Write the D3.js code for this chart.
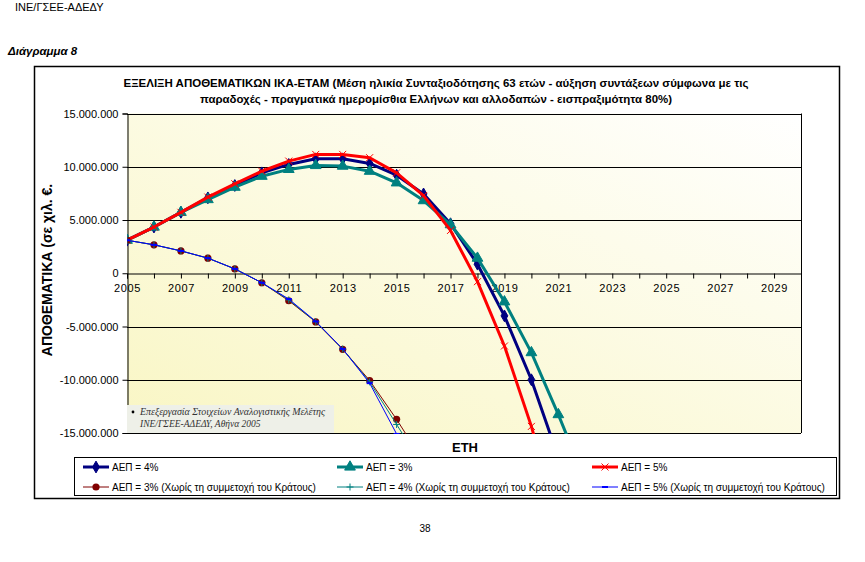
<!DOCTYPE html>
<html><head><meta charset="utf-8">
<script src="https://cdn.jsdelivr.net/npm/d3@7"></script>
<style>body{margin:0;background:#fff;}</style>
</head><body><svg id="c" width="865" height="562" font-family="Liberation Sans, Arial, sans-serif"></svg>
<script>
// ---- data ----
const years = [2005,2006,2007,2008,2009,2010,2011,2012,2013,2014,2015,2016,2017,2018,2019,2020,2021,2022];
const gdp4 = [3100000,4340000,5720000,7080000,8240000,9430000,10220000,10750000,10750000,10310000,9210000,7450000,4650000,850000,-4000000,-10000000,-17300000,null];
const gdp3 = [3100000,4340000,5720000,6920000,8080000,9110000,9750000,10120000,10060000,9580000,8490000,6820000,4560000,1420000,-2680000,-7450000,-13270000,-19500000];
const gdp5 = [3100000,4340000,5720000,7150000,8400000,9580000,10530000,11160000,11160000,10850000,9430000,7290000,4020000,-790000,-6830000,-14380000,-23500000,null];
const noState3 = [3100000,2670000,2100000,1420000,410000,-890000,-2580000,-4570000,-7140000,-10070000,-13720000,-17700000,null,null,null,null,null,null];
const noState4 = [3100000,2670000,2100000,1420000,410000,-890000,-2500000,-4550000,-7120000,-10200000,-14200000,-18200000,null,null,null,null,null,null];
const noState5 = [3100000,2670000,2100000,1420000,410000,-890000,-2420000,-4520000,-7100000,-10320000,-15090000,-19800000,null,null,null,null,null,null];
const yTicks = [-15000000,-10000000,-5000000,0,5000000,10000000,15000000];
const xTickYears = [2005,2006,2007,2008,2009,2010,2011,2012,2013,2014,2015,2016,2017,2018,2019,2020,2021,2022,2023,2024,2025,2026,2027,2028,2029,2030];
const xLabelYears = [2005,2007,2009,2011,2013,2015,2017,2019,2021,2023,2025,2027,2029];
const seriesNames = ["ΑΕΠ = 4%","ΑΕΠ = 3%","ΑΕΠ = 5%","ΑΕΠ = 3% (Χωρίς τη συμμετοχή του Κράτους)","ΑΕΠ = 4% (Χωρίς τη συμμετοχή του Κράτους)","ΑΕΠ = 5% (Χωρίς τη συμμετοχή του Κράτους)"];
const titleLines = ["ΕΞΕΛΙΞΗ ΑΠΟΘΕΜΑΤΙΚΩΝ ΙΚΑ-ΕΤΑΜ (Μέση ηλικία Συνταξιοδότησης 63 ετών - αύξηση συντάξεων σύμφωνα με τις",
  "παραδοχές - πραγματικά ημερομίσθια Ελλήνων και αλλοδαπών - εισπραξιμότητα 80%)"];

const svg = d3.select("#c");
const L = 127, R = 801, T = 113.5, B = 433;
const x = d3.scaleLinear().domain([2005, 2030]).range([L, R]);
const y = d3.scaleLinear().domain([-15000000, 15000000]).range([B, T]);
const loc = d3.formatLocale({decimal:",", thousands:".", grouping:[3], currency:["","€"], minus:"-"});
const fmt = loc.format(",d");

// header texts
svg.append("text").attr("x",15).attr("y",11).attr("font-size",11).text("ΙΝΕ/ΓΣΕΕ-ΑΔΕΔΥ");
svg.append("text").attr("x",8).attr("y",55).attr("font-size",11.5).attr("font-weight","bold").attr("font-style","italic").text("Διάγραμμα 8");
svg.append("text").attr("x",425).attr("y",532).attr("font-size",10).attr("text-anchor","middle").text("38");

// chart border
svg.append("rect").attr("x",34.5).attr("y",66.5).attr("width",805).attr("height",432).attr("fill","#fff").attr("stroke","#000").attr("stroke-width",1.5);

// title
const titleW = [625, 472];
titleLines.forEach((t,i)=>{
  svg.append("text").attr("x",436).attr("y",87+i*15.5).attr("text-anchor","middle")
    .attr("font-size",11).attr("font-weight","bold")
    .attr("textLength",titleW[i]).attr("lengthAdjust","spacingAndGlyphs").text(t);
});

// plot background gradient
const defs = svg.append("defs");
const g = defs.append("linearGradient").attr("id","bg").attr("x1","0").attr("y1","1").attr("x2","1").attr("y2","0");
g.append("stop").attr("offset","0%").attr("stop-color","#f9f6c4");
g.append("stop").attr("offset","100%").attr("stop-color","#ffffff");
svg.append("rect").attr("x",L).attr("y",T).attr("width",R-L).attr("height",B-T).attr("fill","url(#bg)");
defs.append("clipPath").attr("id","clip").append("rect").attr("x",L).attr("y",T-2).attr("width",R-L).attr("height",B-T+3);

// gridlines
svg.append("g").selectAll("line").data(yTicks.filter(v=>v!==0)).join("line")
  .attr("x1",L).attr("x2",R).attr("y1",d=>Math.round(y(d))+0.5).attr("y2",d=>Math.round(y(d))+0.5)
  .attr("stroke","#000").attr("stroke-width",1);
svg.append("line").attr("x1",R+0.5).attr("x2",R+0.5).attr("y1",T).attr("y2",B).attr("stroke","#000");

// y axis
const yAxis = d3.axisLeft(y).tickValues(yTicks).tickFormat(fmt).tickSize(5).tickPadding(4);
const ya = svg.append("g").attr("transform",`translate(${L+0.5},0)`).call(yAxis);
ya.select(".domain").attr("stroke","#000");
ya.selectAll("text").attr("font-size",11).attr("font-family","Liberation Sans, Arial").attr("fill","#000");

// x axis at zero
const xAxis = d3.axisBottom(x).tickValues(xTickYears).tickFormat(d=>xLabelYears.includes(d)?d:"").tickSize(5).tickPadding(6);
const xa = svg.append("g").attr("transform",`translate(0,${Math.round(y(0))+0.5})`).call(xAxis);
xa.select(".domain").attr("stroke","#000");
xa.selectAll("text").attr("font-size",11).attr("font-family","Liberation Sans, Arial").attr("fill","#000").attr("letter-spacing","0.6");

// note box
const nb = svg.append("g");
nb.append("rect").attr("x",127).attr("y",405).attr("width",207).attr("height",28).attr("fill","#eef0e8");
nb.append("circle").attr("cx",133).attr("cy",412).attr("r",1.4).attr("fill","#000");
nb.append("text").attr("x",140).attr("y",415).attr("font-size",9.5).attr("font-style","italic").attr("font-family","Liberation Serif, Times New Roman, serif").attr("fill","#333")
  .attr("textLength",185).attr("lengthAdjust","spacingAndGlyphs").text("Επεξεργασία Στοιχείων Αναλογιστικής Μελέτης");
nb.append("text").attr("x",140).attr("y",427).attr("font-size",9.5).attr("font-style","italic").attr("font-family","Liberation Serif, Times New Roman, serif").attr("fill","#333").text("ΙΝΕ/ΓΣΕΕ-ΑΔΕΔΥ, Αθήνα 2005");

// series
const markers = {
  diamond: (sel,c)=>sel.append("path").attr("d",d3.symbol(d3.symbolDiamond,40)()).attr("fill",c).attr("stroke",c),
  triangle: (sel,c)=>sel.append("path").attr("d",d3.symbol(d3.symbolTriangle,50)()).attr("fill",c).attr("stroke",c),
  cross: (sel,c)=>sel.append("path").attr("d","M-3.5,-3.5L3.5,3.5M-3.5,3.5L3.5,-3.5").attr("stroke",c).attr("stroke-width",1).attr("fill","none"),
  circle: (sel,c)=>sel.append("circle").attr("r",3.6).attr("fill",c),
  plus: (sel,c)=>sel.append("path").attr("d","M-3.5,0L3.5,0M0,-3.5L0,3.5").attr("stroke",c).attr("stroke-width",1).attr("fill","none"),
  dash: (sel,c)=>sel.append("rect").attr("x",-3).attr("y",-1).attr("width",6).attr("height",2).attr("fill",c)
};
const series = [
  {vals:gdp4, color:"#000080", w:3, m:"diamond"},
  {vals:gdp3, color:"#008080", w:3, m:"triangle"},
  {vals:gdp5, color:"#ff0000", w:3, m:"cross"},
  {vals:noState3, color:"#800000", w:1, m:"circle"},
  {vals:noState4, color:"#008080", w:1, m:"plus"},
  {vals:noState5, color:"#0000ff", w:1, m:"dash"}
];
const plotG = svg.append("g").attr("clip-path","url(#clip)");
const line = d3.line().defined(d=>d[1]!==null).x(d=>x(d[0])).y(d=>y(d[1]));
series.forEach(s=>{
  const pts = years.map((yr,i)=>[yr,s.vals[i]]).filter(d=>d[1]!==null);
  plotG.append("path").datum(pts).attr("d",line).attr("fill","none").attr("stroke",s.color).attr("stroke-width",s.w).attr("stroke-linejoin","round");
  pts.forEach(p=>{
    const mg = plotG.append("g").attr("transform",`translate(${x(p[0])},${y(p[1])})`);
    markers[s.m](mg,s.color);
  });
});

// axis titles
svg.append("text").attr("transform","translate(52,270) rotate(-90)").attr("text-anchor","middle")
  .attr("font-size",14).attr("font-weight","bold").text("ΑΠΟΘΕΜΑΤΙΚΑ (σε χιλ. €.");
svg.append("text").attr("x",465).attr("y",452).attr("text-anchor","middle").attr("font-size",13).attr("font-weight","bold").text("ΕΤΗ");

// legend
svg.append("rect").attr("x",74.5).attr("y",457.5).attr("width",762).attr("height",38).attr("fill","#fff").attr("stroke","#000").attr("stroke-width",1);
const colX = [83,337,592];
series.forEach((s,i)=>{
  const cx = colX[i%3], cy = i<3 ? 467 : 487;
  const lg = svg.append("g");
  lg.append("line").attr("x1",cx).attr("x2",cx+26).attr("y1",cy).attr("y2",cy).attr("stroke",s.color).attr("stroke-width",s.w);
  const mg = lg.append("g").attr("transform",`translate(${cx+13},${cy})`);
  markers[s.m](mg,s.color);
  lg.append("text").attr("x",cx+29).attr("y",cy+3.5).attr("font-size",10).text(seriesNames[i]);
});
</script></body></html>
